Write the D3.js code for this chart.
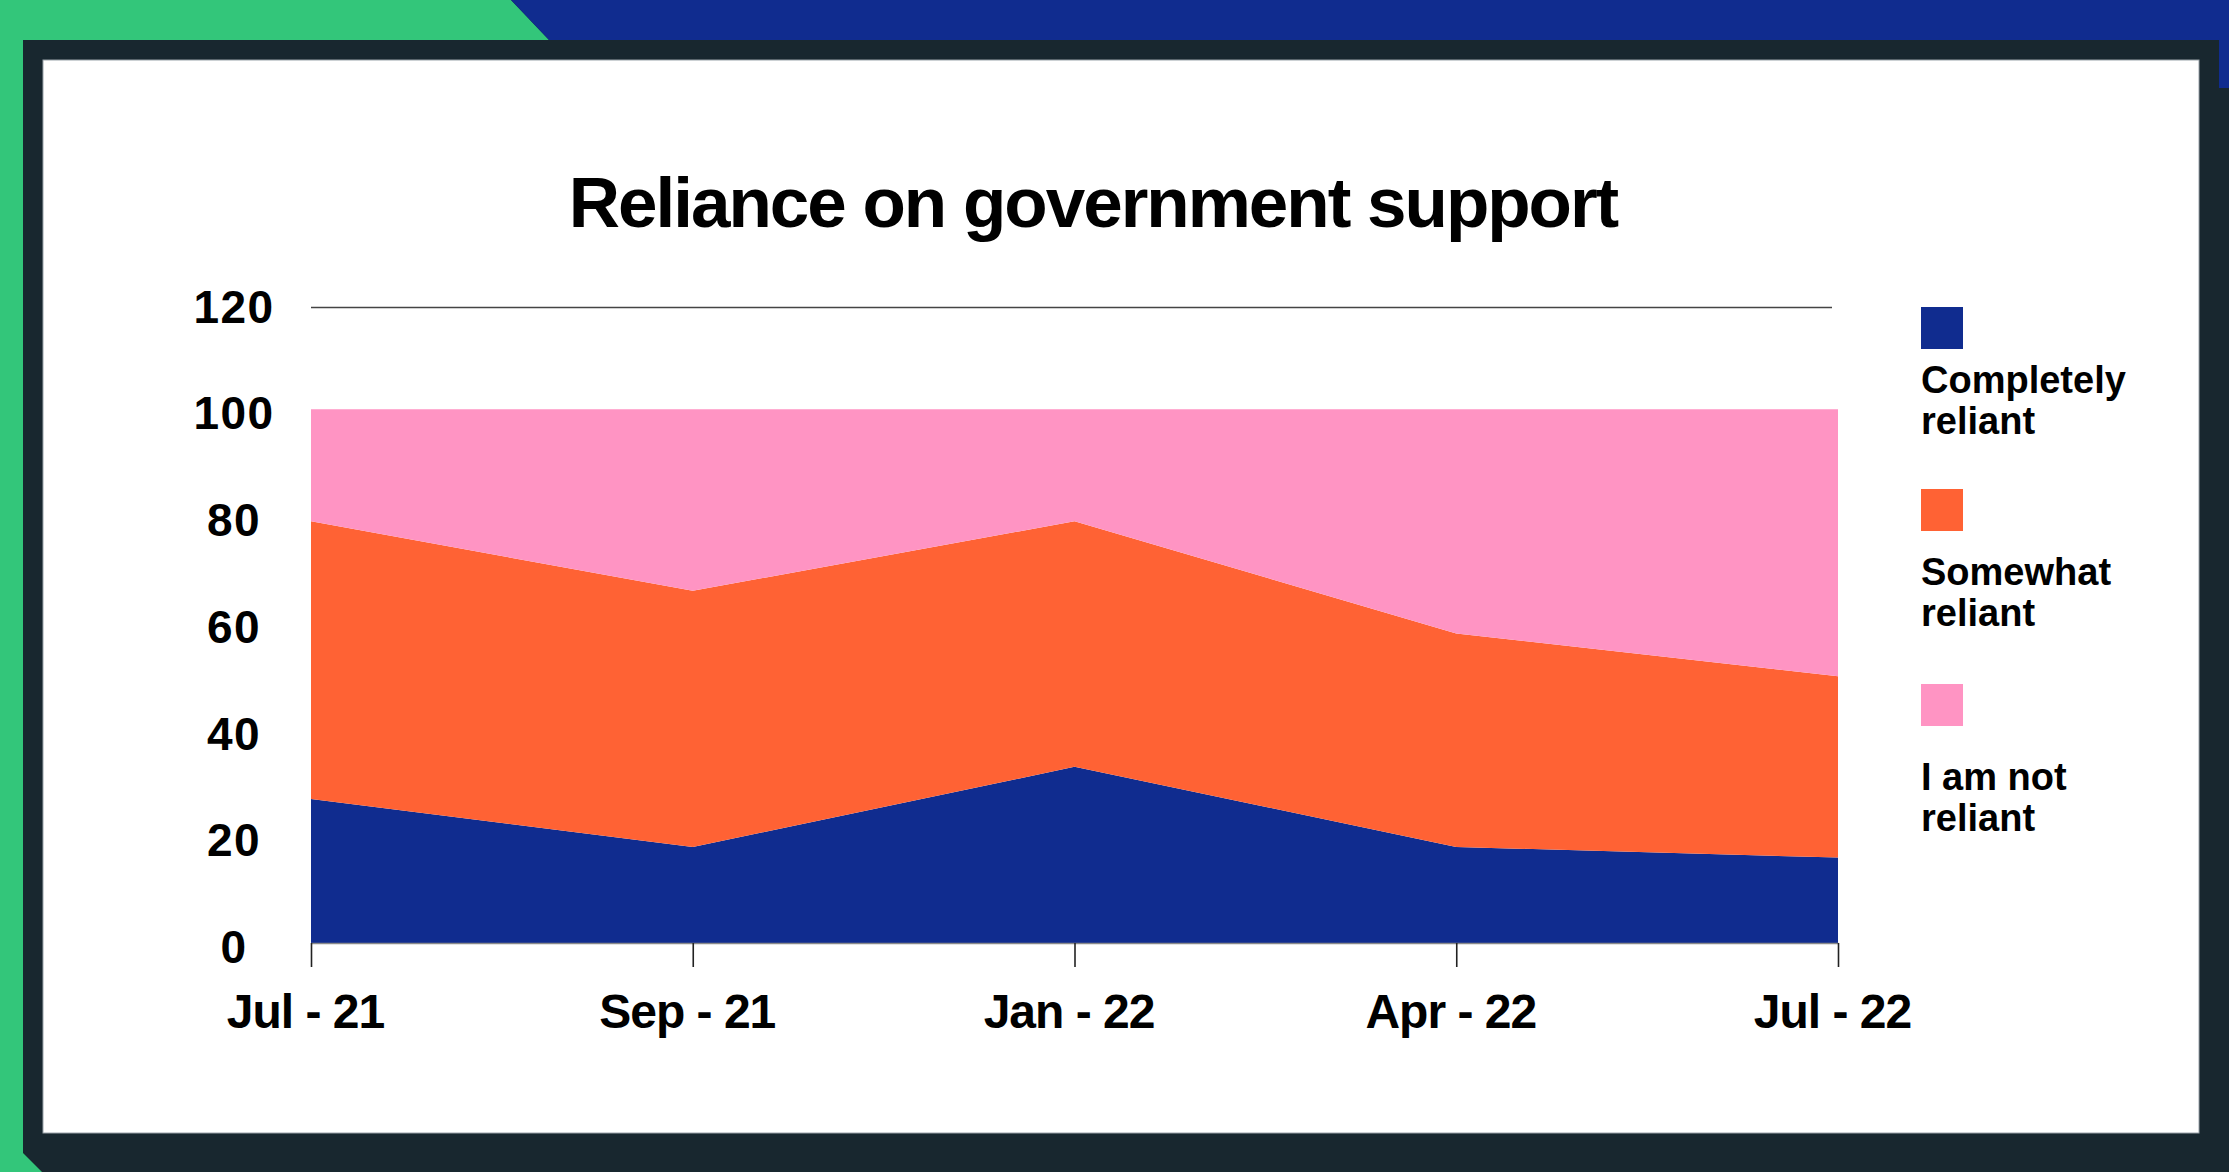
<!DOCTYPE html>
<html lang="en">
<head>
    <meta charset="UTF-8">
    <title>Reliance on government support</title>
    <script src="https://d3js.org/d3.v7.min.js"></script>
    <style>
        body { margin: 0; overflow: hidden; background: #18272f; }
        svg { display: block; }
        text { font-family: "Liberation Sans", Arial, sans-serif; font-weight: bold; fill: #000; }
    </style>
</head>
<body>
    <svg id="chart" width="2229" height="1172"></svg>
    <script>
        // data
        const periods = ["Jul - 21", "Sep - 21", "Jan - 22", "Apr - 22", "Jul - 22"];
        const completely = [27, 18, 33, 18, 16];
        const somewhat = [52, 48, 46, 40, 34];
        const notReliant = [21, 34, 21, 42, 50];
        const seriesNames = ["Completely reliant", "Somewhat reliant", "I am not reliant"];
        const legendLines = [["Completely", "reliant"], ["Somewhat", "reliant"], ["I am not", "reliant"]];
        const yTicks = [0, 20, 40, 60, 80, 100, 120];
        const colors = ["#102c8f", "#ff6234", "#ff94c3"];

        const svg = d3.select("#chart");

        // frame: dark background, green and blue corners, white card
        svg.append("rect").attr("width", 2229).attr("height", 1172).attr("fill", "#18272f");
        svg.append("polygon")
            .attr("points", "0,0 511,0 549,40 23,40 23,1153 42,1172 0,1172")
            .attr("fill", "#33c67a");
        svg.append("polygon")
            .attr("points", "511,0 2229,0 2229,88 2219,88 2219,40 549,40")
            .attr("fill", "#102c8f");
        svg.append("rect")
            .attr("x", 43).attr("y", 60).attr("width", 2156).attr("height", 1073)
            .attr("fill", "#fff").attr("stroke", "#9aa3aa").attr("stroke-width", 1);

        const x = d3.scalePoint().domain(periods).range([311, 1838]);
        const y = d3.scaleLinear().domain([0, 120]).range([943, 302.5]);

        const rows = periods.map((p, i) => ({
            period: p,
            [seriesNames[0]]: completely[i],
            [seriesNames[1]]: somewhat[i],
            [seriesNames[2]]: notReliant[i]
        }));
        const stacked = d3.stack().keys(seriesNames)(rows);

        svg.append("text")
            .attr("x", 1093).attr("y", 227)
            .attr("text-anchor", "middle")
            .style("font-size", "71px")
            .style("letter-spacing", "-2px")
            .text("Reliance on government support");

        // gridline at 120 (sits a touch below the scale value in the original)
        svg.append("line")
            .attr("x1", x(periods[0])).attr("x2", 1832)
            .attr("y1", y(120) + 5).attr("y2", y(120) + 5)
            .attr("stroke", "#444").attr("stroke-width", 1.6);

        const area = d3.area()
            .x(d => x(d.data.period))
            .y0(d => y(d[0]))
            .y1(d => y(d[1]));

        svg.append("g").selectAll("path")
            .data(stacked)
            .join("path")
            .attr("fill", (d, i) => colors[i])
            .attr("d", area);

        // y labels, centred in their column
        svg.append("g").selectAll("text")
            .data(yTicks)
            .join("text")
            .attr("x", 234)
            .attr("y", d => y(d) + 20)
            .attr("text-anchor", "middle")
            .style("font-size", "46px")
            .style("letter-spacing", "1.5px")
            .text(d => d);

        // x axis
        const xAxis = svg.append("g")
            .attr("transform", `translate(0,${y(0)})`)
            .call(d3.axisBottom(x).tickSize(24).tickPadding(27).tickSizeOuter(0));
        xAxis.select(".domain").attr("stroke", "#8a8a8a").attr("stroke-width", 1.6);
        xAxis.selectAll(".tick line").attr("stroke", "#222").attr("stroke-width", 1.6);
        xAxis.selectAll(".tick text")
            .attr("fill", "#000")
            .attr("dx", -6)
            .style("font-family", '"Liberation Sans", Arial, sans-serif')
            .style("font-weight", "bold")
            .style("font-size", "48px")
            .style("letter-spacing", "-1px");

        // legend
        const legendTop = [307, 489, 684];
        const legend = svg.append("g").selectAll("g")
            .data(seriesNames)
            .join("g")
            .attr("transform", (d, i) => `translate(1921,${legendTop[i]})`);
        legend.append("rect")
            .attr("width", 42).attr("height", 42)
            .attr("fill", (d, i) => colors[i]);
        legend.each(function(d, i) {
            const g = d3.select(this);
            legendLines[i].forEach((line, j) => {
                g.append("text")
                    .attr("x", 0)
                    .attr("y", 86 + i * 10 + j * 41)
                    .style("font-size", "38px")
                    .text(line);
            });
        });
    </script>
</body>
</html>
